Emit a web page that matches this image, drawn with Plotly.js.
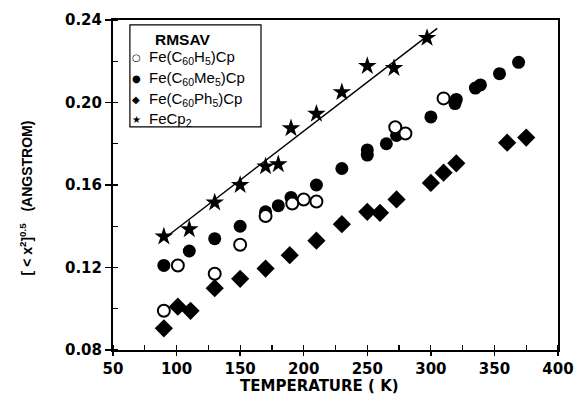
<!DOCTYPE html>
<html>
<head>
<meta charset="utf-8">
<script src="https://cdn.plot.ly/plotly-3.0.1.min.js"></script>
<style>html,body{margin:0;padding:0;background:#fff;}#chart{width:577px;height:402px;}</style>
</head>
<body>
<div id="chart"></div>
<script>
// Fe(C60H5)Cp  (open circles)
const tempH5 = [90, 101, 130, 150, 170, 191, 200, 210, 272, 280, 310];
const rmsH5  = [0.099, 0.121, 0.117, 0.131, 0.145, 0.151, 0.153, 0.152, 0.188, 0.185, 0.202];
// Fe(C60Me5)Cp (filled circles)
const tempMe5 = [90, 110, 130, 150, 170, 180, 190, 210, 230, 250, 250, 265, 273, 300, 319, 320, 335, 339, 354, 369];
const rmsMe5  = [0.121, 0.128, 0.134, 0.140, 0.147, 0.150, 0.154, 0.160, 0.168, 0.1745, 0.177, 0.180, 0.184, 0.193, 0.1995, 0.2015, 0.207, 0.2085, 0.214, 0.2195];
// Fe(C60Ph5)Cp (diamonds)
const tempPh5 = [90, 101, 111, 130, 150, 170, 189, 210, 230, 250, 260, 273, 300, 310, 320, 360, 375];
const rmsPh5  = [0.0905, 0.101, 0.099, 0.110, 0.1145, 0.1195, 0.126, 0.133, 0.141, 0.147, 0.1465, 0.153, 0.161, 0.166, 0.1705, 0.1805, 0.183];
// FeCp2 (stars)
const tempCp2 = [90, 110, 130, 150, 170, 180, 190, 210, 230, 250, 271, 297];
const rmsCp2  = [0.135, 0.1385, 0.1515, 0.160, 0.169, 0.170, 0.1875, 0.1945, 0.205, 0.2177, 0.2167, 0.2313];
// linear fit through FeCp2
const fitT = [87, 305];
const fitR = [0.1325, 0.2359];

const xTicks = [50, 100, 150, 200, 250, 300, 350, 400];
const yTicks = [0.08, 0.12, 0.16, 0.20, 0.24];
const yTickText = ['0.08', '0.12', '0.16', '0.20', '0.24'];

const legendTitle = 'RMSAV';
const legendNames = ['Fe(C<sub>60</sub>H<sub>5</sub>)Cp', 'Fe(C<sub>60</sub>Me<sub>5</sub>)Cp', 'Fe(C<sub>60</sub>Ph<sub>5</sub>)Cp', 'FeCp<sub>2</sub>'];
const legendGlyphs = ['○', '●', '◆', '★'];

const traces = [
  {x: fitT, y: fitR, mode: 'lines', line: {color: '#000', width: 1.5}, showlegend: false, hoverinfo: 'skip'},
  {x: tempMe5, y: rmsMe5, mode: 'markers', name: 'Fe(C60Me5)Cp', marker: {symbol: 'circle', size: 13, color: '#000'}},
  {x: tempH5, y: rmsH5, mode: 'markers', name: 'Fe(C60H5)Cp', marker: {symbol: 'circle', size: 12, color: '#fff', line: {color: '#000', width: 2}}},
  {x: tempPh5, y: rmsPh5, mode: 'markers', name: 'Fe(C60Ph5)Cp', marker: {symbol: 'diamond', size: 14, color: '#000'}},
  {x: tempCp2, y: rmsCp2, mode: 'markers', name: 'FeCp2', marker: {symbol: 'star', size: 14, color: '#000'}}
];

const tickFont = {family: 'DejaVu Sans', size: 15, color: '#000', weight: 'bold'};

// legend geometry (paper coords)
const lgX0 = 0.038, lgX1 = 0.3326, lgY0 = 0.676, lgY1 = 0.985;
const entryY = [0.885, 0.822, 0.758, 0.700];

const annotations = [
  {xref: 'paper', yref: 'paper', x: 0.465, y: -0.11, text: '<b>TEMPERATURE ( K)</b>', showarrow: false,
   font: {family: 'DejaVu Sans', size: 15, color: '#000'}, xanchor: 'center', yanchor: 'middle'},
  {xref: 'paper', yref: 'paper', x: -0.195, y: 0.46, text: '<b>[ < x<sup>2</sup>]<sup>0.5</sup>   (ANGSTROM)</b>', showarrow: false,
   textangle: -90, font: {family: 'Liberation Sans', size: 14, color: '#000'}, xanchor: 'center', yanchor: 'middle'},
  {xref: 'paper', yref: 'paper', x: 0.157, y: 0.94, text: '<b>' + legendTitle + '</b>', showarrow: false,
   font: {family: 'Liberation Sans', size: 15.5, color: '#000'}, xanchor: 'center', yanchor: 'middle'}
];
legendNames.forEach((n, i) => {
  annotations.push({xref: 'paper', yref: 'paper', x: 0.052, y: entryY[i], text: legendGlyphs[i], showarrow: false,
    font: {family: 'DejaVu Sans', size: 10, color: '#000'}, xanchor: 'center', yanchor: 'middle'});
  annotations.push({xref: 'paper', yref: 'paper', x: 0.076, y: entryY[i], text: n, showarrow: false,
    font: {family: 'Liberation Sans', size: 15, color: '#000'}, xanchor: 'left', yanchor: 'middle'});
});

const layout = {
  width: 577, height: 402,
  margin: {l: 113, r: 19, t: 20, b: 52},
  paper_bgcolor: '#fff', plot_bgcolor: '#fff',
  showlegend: false,
  xaxis: {
    range: [50, 400], tickvals: xTicks, ticks: 'outside', ticklen: 4, tickwidth: 1.5, tickcolor: '#000',
    showline: true, linecolor: '#000', linewidth: 2, mirror: true, showgrid: false, zeroline: false,
    tickfont: tickFont, minor: {dtick: 25, tick0: 50, ticks: 'inside', ticklen: 5, tickwidth: 1.2, tickcolor: '#000', showgrid: false}
  },
  yaxis: {
    range: [0.08, 0.24], tickvals: yTicks, ticktext: yTickText, ticks: 'outside', ticklen: 6, tickwidth: 1.5, tickcolor: '#000',
    showline: true, linecolor: '#000', linewidth: 2, mirror: true, showgrid: false, zeroline: false,
    tickfont: tickFont, minor: {dtick: 0.02, tick0: 0.08, ticks: 'inside', ticklen: 5, tickwidth: 1.2, tickcolor: '#000', showgrid: false}
  },
  xaxis2: {overlaying: 'x', anchor: 'y', side: 'bottom', range: [50, 400], tickvals: xTicks, ticks: 'inside', ticklen: 5, tickwidth: 1.5,
    tickcolor: '#000', showticklabels: false, showline: false, showgrid: false, zeroline: false},
  yaxis2: {overlaying: 'y', anchor: 'x', side: 'left', range: [0.08, 0.24], tickvals: yTicks, ticks: 'inside', ticklen: 5, tickwidth: 1.5,
    tickcolor: '#000', showticklabels: false, showline: false, showgrid: false, zeroline: false},
  shapes: [
    {type: 'rect', xref: 'paper', yref: 'paper', x0: lgX0, x1: lgX1, y0: lgY0, y1: lgY1, line: {color: '#000', width: 1.2}, fillcolor: 'rgba(0,0,0,0)'}
  ],
  annotations: annotations
};

Plotly.newPlot('chart', traces, layout, {displayModeBar: false, staticPlot: true});
</script>
</body>
</html>
